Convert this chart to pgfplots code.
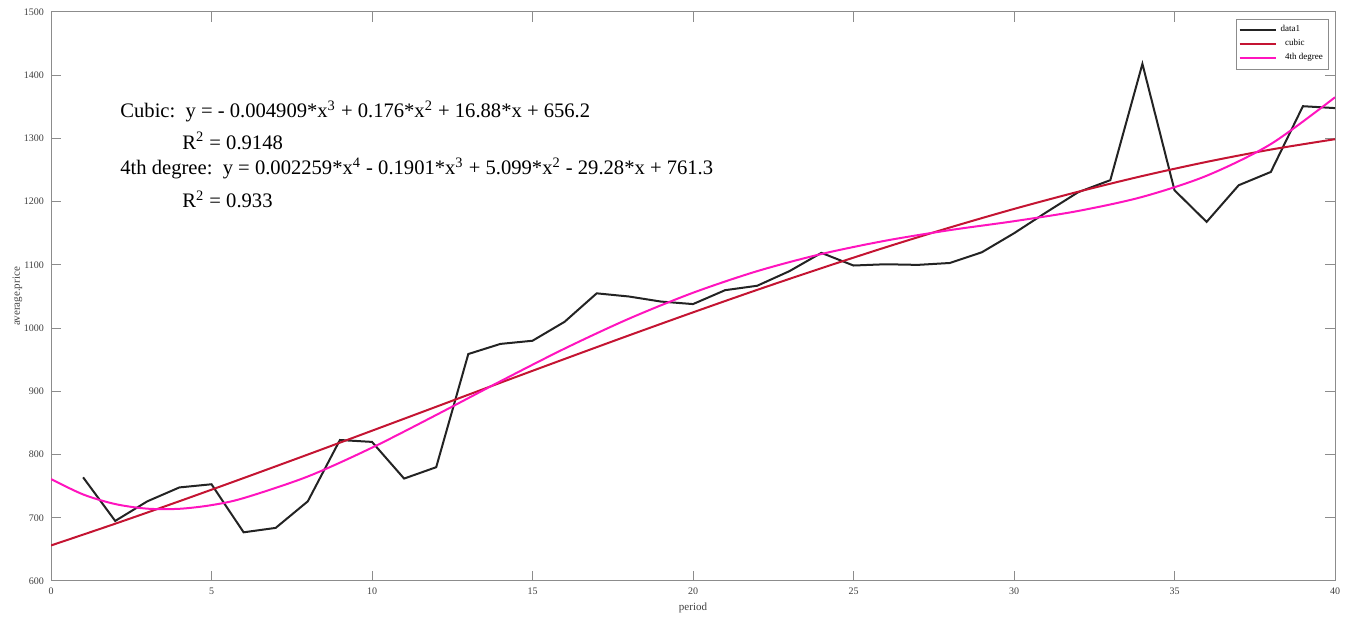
\documentclass[border=0pt]{standalone}
\usepackage{fontspec}
\setmainfont{Liberation Serif}
\usepackage{pgfplots}
\pgfplotsset{compat=1.18}
\definecolor{dataone}{RGB}{35,35,35}
\definecolor{cubiccol}{RGB}{196,20,50}
\definecolor{quartcol}{RGB}{255,20,190}
\definecolor{axgray}{RGB}{140,140,140}
\begin{document}
\begin{tikzpicture}
\begin{axis}[
  name=ax,
  scale only axis,
  width=642pt, height=284.5pt,
  xmin=0, xmax=40, ymin=600, ymax=1500,
  xtick={0,5,...,40}, ytick={600,700,...,1500},
  /pgf/number format/assume math mode=true,
  /pgf/number format/1000 sep={},
  tick label style={font=\fontsize{5}{6}\selectfont, text=black!75},
  label style={font=\fontsize{5.5}{6.5}\selectfont, text=black!75},
  xlabel={period}, ylabel={average.price},
  xlabel style={yshift=3pt},
  ylabel style={yshift=-6pt},
  axis line style={axgray, line width=0.5pt},
  major tick length=5pt,
  tick style={axgray, line width=0.5pt},
  tick align=inside,
  legend style={at={(rel axis cs:0.9955,0.988)}, anchor=north east,
    font=\fontsize{4.5}{5}\selectfont, draw=axgray, line width=0.4pt,
    inner sep=1pt, row sep=-1.5pt, cells={anchor=west}},
  legend image code/.code={\draw[#1, line width=1pt] (0pt,0pt) -- (18pt,0pt);},
  clip=true,
]
\addplot[dataone, line width=1pt] coordinates {
(1,764) (2,695) (3,726) (4,748) (5,753) (6,677) (7,684) (8,726) (9,823) (10,820)
(11,762) (12,780) (13,959) (14,975) (15,980) (16,1010) (17,1055) (18,1050) (19,1042) (20,1038)
(21,1060) (22,1067) (23,1090) (24,1119) (25,1099) (26,1101) (27,1100) (28,1103) (29,1120) (30,1150)
(31,1183) (32,1215) (33,1234) (34,1418) (35,1218) (36,1168) (37,1226) (38,1247) (39,1351) (40,1348)};
\addlegendentry{data1}
\addplot[cubiccol, line width=1pt, smooth] coordinates {
(0,656.2) (2,690.6) (4,726.2) (6,762.8) (8,800.0) (10,837.7) (12,875.6) (14,913.6)
(16,951.2) (18,988.4) (20,1024.9) (22,1060.5) (24,1094.8) (26,1127.8) (28,1159.1)
(30,1188.5) (32,1215.7) (34,1240.6) (36,1262.9) (38,1282.4) (40,1298.8)};
\addlegendentry{\ \ cubic}
\addplot[quartcol, line width=1pt, smooth] coordinates {
(0,761.3) (1,736.9) (2,721.7) (3,714.4) (4,714.2) (5,720.0) (6,731.1) (8,765.3)
(10,810.9) (12,862.6) (14,915.9) (16,967.6) (18,1014.8) (20,1055.9) (22,1090.1)
(24,1117.2) (26,1138.3) (28,1155.0) (30,1169.1) (32,1185.3) (34,1207.6) (36,1241.0)
(38,1291.1) (40,1365.1)};
\addlegendentry{\ \ 4th degree}
\node[anchor=west, font=\fontsize{10.3}{12}\selectfont, inner sep=0pt] at (axis cs:2.15,1343)
  {Cubic:\ \ y = - 0.004909*x\textsuperscript{3} + 0.176*x\textsuperscript{2} + 16.88*x + 656.2};
\node[anchor=west, font=\fontsize{10.3}{12}\selectfont, inner sep=0pt] at (axis cs:4.08,1296)
  {R\textsuperscript{2} = 0.9148};
\node[anchor=west, font=\fontsize{10.3}{12}\selectfont, inner sep=0pt] at (axis cs:2.15,1252)
  {4th degree:\ \ y = 0.002259*x\textsuperscript{4} - 0.1901*x\textsuperscript{3} + 5.099*x\textsuperscript{2} - 29.28*x + 761.3};
\node[anchor=west, font=\fontsize{10.3}{12}\selectfont, inner sep=0pt] at (axis cs:4.08,1204)
  {R\textsuperscript{2} = 0.933};
\end{axis}
\path (ax.north east) ++(8pt,6pt) coordinate (extra);
\path (ax.south west) ++(-25.5pt,0pt) coordinate (extraleft);
\end{tikzpicture}
\end{document}
